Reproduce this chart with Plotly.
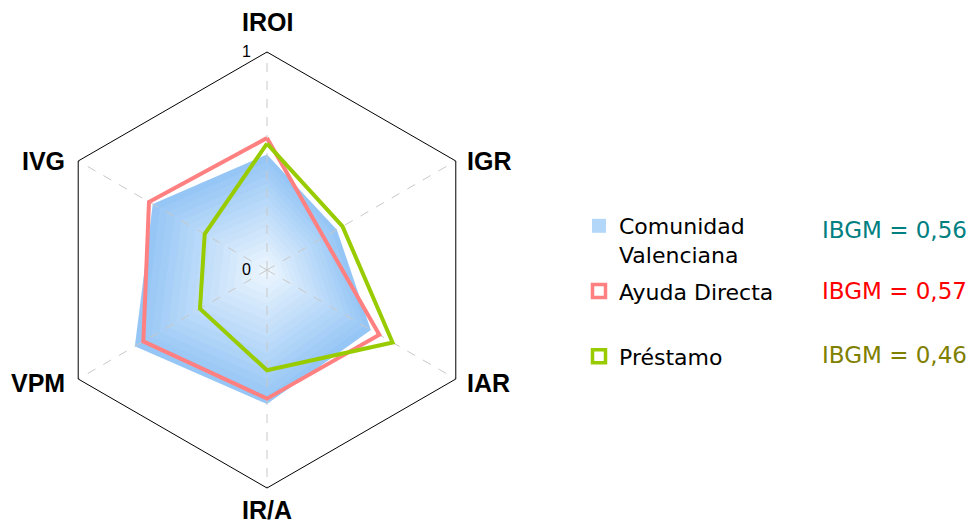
import math
import plotly.graph_objects as go

# Indicator axes, clockwise from the top
indicators = ["IROI", "IGR", "IAR", "IR/A", "VPM", "IVG"]

# Normalised indicator scores (0-1)
comunidad_valenciana = [0.53, 0.37, 0.55, 0.615, 0.70, 0.605]
ayuda_directa = [0.605, 0.30, 0.595, 0.59, 0.655, 0.625]
prestamo = [0.58, 0.40, 0.665, 0.46, 0.355, 0.33]

# Global index per series
ibgm_labels = ["IBGM = 0,56", "IBGM = 0,57", "IBGM = 0,46"]
ibgm_colors = ["#008080", "#ff0000", "#808000"]

radial_ticks = [0, 1]


def closed(values):
    return list(values) + [values[0]]


theta_c = closed(indicators)
W, H = 979, 526
cx, cy, R = 267, 270, 218
domain = dict(x=[(cx - R) / W, (cx + R) / W],
              y=[(H - cy - R) / H, (H - cy + R) / H])

fig = go.Figure()

# Comunidad Valenciana: filled area shaded from the rim (darker) to the centre (lighter)
edge = (150, 198, 245)
centre = (235, 245, 254)
n_layers = 16
for i in range(n_layers):
    k = 1 - i / n_layers
    t = i / (n_layers - 1)
    col = tuple(round(edge[j] + (centre[j] - edge[j]) * t) for j in range(3))
    fig.add_trace(go.Scatterpolar(
        r=closed([v * k for v in comunidad_valenciana]), theta=theta_c,
        mode="lines", fill="toself", line=dict(width=0),
        fillcolor="rgb(%d,%d,%d)" % col,
        hoverinfo="skip", showlegend=False, subplot="polar",
    ))

# Outline series sit on a second, transparent polar layer that also carries the grid
fig.add_trace(go.Scatterpolar(
    r=closed(ayuda_directa), theta=theta_c, mode="lines",
    line=dict(color="#ff8080", width=4), showlegend=False, name="Ayuda Directa",
    subplot="polar2",
))
fig.add_trace(go.Scatterpolar(
    r=closed(prestamo), theta=theta_c, mode="lines",
    line=dict(color="#99cc00", width=4), showlegend=False, name="Préstamo",
    subplot="polar2",
))

# Legend entries
legend_items = [
    ("Comunidad<br>Valenciana", dict(symbol="square", size=14, color="#b3d7f8",
                                     line=dict(width=0))),
    ("Ayuda Directa<br> ", dict(symbol="square-open", size=13, color="#ff8080",
                                line=dict(width=3.5, color="#ff8080"))),
    ("Préstamo<br> ", dict(symbol="square-open", size=13, color="#99cc00",
                           line=dict(width=3.5, color="#99cc00"))),
]
for i, (name, marker) in enumerate(legend_items):
    fig.add_trace(go.Scatterpolar(
        r=[None], theta=[None], mode="markers", marker=marker,
        name=name, legendgroup="g%d" % i, subplot="polar2",
    ))

hidden_angular = dict(direction="clockwise", rotation=90, showline=False,
                      showgrid=False, showticklabels=False, ticks="")
hidden_radial = dict(range=[0, 1], showline=False, showgrid=False,
                     showticklabels=False, ticks="")

fig.update_layout(
    width=W, height=H,
    margin=dict(l=0, r=0, t=0, b=0),
    paper_bgcolor="white",
    plot_bgcolor="white",
    polar=dict(domain=domain, bgcolor="white", gridshape="linear",
               angularaxis=hidden_angular, radialaxis=hidden_radial),
    polar2=dict(
        domain=domain,
        bgcolor="rgba(0,0,0,0)",
        gridshape="linear",
        angularaxis=dict(
            direction="clockwise", rotation=90,
            showline=True, linecolor="black", linewidth=1,
            showgrid=True, gridcolor="#c8c8c8", griddash="dash", gridwidth=1,
            ticks="", showticklabels=False,
        ),
        radialaxis=dict(range=[0, 1], showline=False, showgrid=False,
                        showticklabels=False, ticks="", angle=90),
    ),
    legend=dict(
        x=579 / W, y=1 - 205 / H, xanchor="left", yanchor="top",
        font=dict(family="DejaVu Sans", size=22, color="black"),
        valign="top", tracegroupgap=5, itemwidth=30,
        bgcolor="rgba(0,0,0,0)",
    ),
    showlegend=True,
)

# Radial scale labels on the left of the vertical axis
for v in radial_ticks:
    fig.add_annotation(
        x=(cx - 21) / W, y=1 - (cy - R * v - 1) / H, xref="paper", yref="paper",
        xanchor="center", yanchor="middle", showarrow=False, text=str(v),
        font=dict(family="Liberation Sans", size=16, color="black"),
    )

# Axis titles placed just outside each vertex of the hexagon
label_offsets = {"IROI": (0, -30), "IGR": (9, 0), "IAR": (9, 4),
                 "IR/A": (0, 22), "VPM": (-11, 4), "IVG": (-11, 0)}
for i, name in enumerate(indicators):
    ang = math.radians(90 - 60 * i)
    vx = cx + R * math.cos(ang)
    vy = cy - R * math.sin(ang)
    dx, dy = label_offsets[name]
    if abs(math.cos(ang)) < 1e-6:
        xa = "center"
    else:
        xa = "left" if math.cos(ang) > 0 else "right"
    fig.add_annotation(
        x=(vx + dx) / W, y=1 - (vy + dy) / H, xref="paper", yref="paper",
        xanchor=xa, yanchor="middle", showarrow=False, text="<b>%s</b>" % name,
        font=dict(family="Liberation Sans", size=25, color="black"),
    )

for i, (txt, col) in enumerate(zip(ibgm_labels, ibgm_colors)):
    fig.add_annotation(
        x=820 / W, y=1 - [230, 291, 355][i] / H, xref="paper", yref="paper",
        xanchor="left", yanchor="middle", showarrow=False, text=txt,
        font=dict(family="DejaVu Sans", size=23, color=col),
    )

fig.write_html("out.html")
